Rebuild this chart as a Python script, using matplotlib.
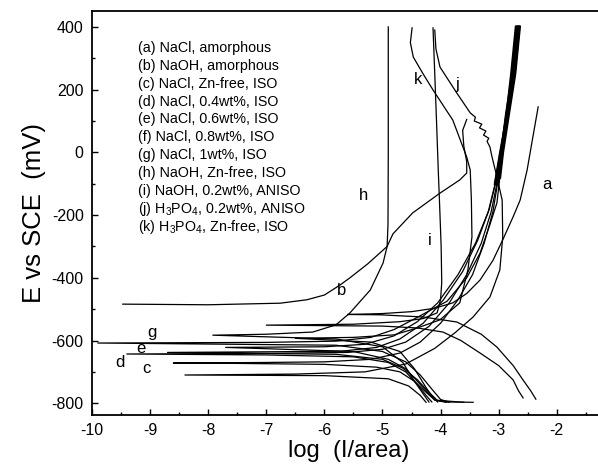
import numpy as np
import matplotlib
matplotlib.use('Agg')
import matplotlib.pyplot as plt
from matplotlib.ticker import MultipleLocator

plt.rcParams['font.family'] = ['Liberation Sans', 'DejaVu Sans']
plt.rcParams['mathtext.default'] = 'regular'
plt.rcParams['axes.unicode_minus'] = False

# curve data: log(I/area) and E (mV), cathodic end -> corrosion cusp -> anodic end
a_logi = [-2.36, -2.45, -2.58, -2.75, -3.03, -3.3, -3.72, -4.3, -5.04, -5.6,
          -5.0, -4.5, -4.1, -3.79, -3.55, -3.32, -3.1, -2.93, -2.75, -2.63, -2.51, -2.42, -2.32]
a_e = [-787, -760, -726, -680, -621, -580, -541, -525, -518, -517,
       -514, -508, -497, -480, -450, -407, -345, -279, -205, -152, -56, 40, 145]

b_logi = [-9.47, -8.0, -6.76, -6.3, -6.0, -5.73, -5.56, -5.25, -4.92, -4.82, -4.48,
          -4.01, -3.67, -3.55, -3.55, -3.6, -3.62, -3.55]
b_e = [-484, -486, -481, -470, -455, -423, -400, -355, -300, -260, -193,
       -130, -88, -66, -30, 20, 70, 105]

c_logi = [-3.44, -3.9, -4.1, -4.25, -4.45, -4.7, -5.1, -6.0, -7.5, -8.6,
          -7.0, -6.0, -5.2, -4.7, -4.35, -4.0, -3.7, -3.45, -3.25, -3.1, -3.02, -2.94, -2.86, -2.78, -2.7]
c_e = [-797, -796, -790, -765, -730, -700, -685, -676, -673, -672,
       -670, -668, -660, -640, -605, -545, -470, -390, -290, -190, -100, 0, 120, 250, 400]

d_logi = [-4.15, -4.25, -4.4, -4.6, -4.9, -5.5, -7.0, -9.4,
          -7.0, -5.6, -5.0, -4.6, -4.2, -3.85, -3.55, -3.3, -3.13, -3.03, -2.95, -2.87, -2.76, -2.68]
d_e = [-796, -775, -740, -700, -670, -652, -646, -643,
       -641, -638, -628, -605, -555, -480, -390, -290, -190, -100, 0, 120, 250, 400]

e_logi = [-3.9, -4.05, -4.2, -4.4, -4.65, -5.0, -5.8, -8.7,
          -7.0, -5.7, -5.1, -4.7, -4.3, -3.95, -3.62, -3.36, -3.16, -3.05, -2.96, -2.86, -2.74, -2.66]
e_e = [-797, -792, -765, -725, -688, -660, -644, -638,
       -636, -634, -622, -595, -545, -470, -380, -280, -180, -95, 0, 120, 250, 400]

f_logi = [-4.05, -4.2, -4.4, -4.6, -4.9, -5.5, -7.7,
          -6.0, -5.3, -4.8, -4.4, -4.05, -3.7, -3.4, -3.18, -3.06, -2.97, -2.85, -2.73, -2.65]
f_e = [-796, -770, -730, -690, -660, -635, -622,
       -620, -612, -585, -540, -480, -390, -290, -190, -100, 0, 120, 250, 400]

g_logi = [-3.85, -4.0, -4.15, -4.35, -4.6, -5.0, -5.8, -9.9,
          -7.0, -5.8, -5.2, -4.8, -4.48, -3.89, -3.55, -3.32, -3.15, -3.03, -2.98, -2.93, -2.83, -2.72, -2.64]
g_e = [-797, -788, -755, -710, -668, -635, -615, -608,
       -606, -602, -590, -565, -534, -475, -400, -321, -230, -161, -80, 0, 120, 250, 400]

h_logi = [-4.2, -4.3, -4.45, -4.65, -5.0, -5.8, -7.92,
          -7.0, -6.2, -5.8, -5.56, -5.21, -4.99, -4.92, -4.905, -4.9, -4.9, -4.9]
h_e = [-796, -770, -730, -670, -620, -595, -583,
       -580, -573, -550, -512, -439, -353, -300, -230, 0, 200, 400]

i_logi = [-2.58, -2.66, -2.75, -3.0, -3.32, -3.65, -3.96, -4.4, -5.0, -7.0,
          -5.5, -4.7, -4.3, -4.06, -4.0, -3.98, -3.99, -4.02, -4.04, -4.07, -4.1, -4.13]
i_e = [-783, -760, -726, -680, -640, -600, -573, -560, -554, -551,
       -548, -540, -530, -512, -470, -415, -300, -150, -56, 100, 250, 397]

j_logi = [-4.25, -4.35, -4.55, -4.9, -6.0, -8.4,
          -6.5, -5.3, -4.6, -4.1, -3.75, -3.44, -3.15, -2.98, -2.93, -2.94, -3.03, -3.12, -3.15,
          -3.2, -3.17, -3.26, -3.22, -3.33, -3.29, -3.42, -3.4, -3.49, -3.72, -4.01, -4.08, -4.1]
j_e = [-797, -775, -745, -722, -712, -710,
       -707, -700, -675, -625, -575, -525, -461, -375, -270, -152, -79, -10, 17,
       35, 45, 55, 68, 78, 90, 100, 112, 126, 189, 272, 330, 390]

k_logi = [-3.6, -4.1, -4.25, -4.45, -4.7, -5.2, -6.5,
          -5.5, -4.8, -4.4, -4.01, -3.67, -3.53, -3.46, -3.47, -3.49, -3.55, -3.79, -4.13, -4.3,
          -4.47, -4.52, -4.49]
k_e = [-797, -790, -750, -690, -635, -605, -593,
       -590, -582, -560, -534, -480, -375, -270, -150, -56, -15, 103, 199, 250,
       304, 350, 397]

curves = [(a_logi, a_e), (b_logi, b_e), (c_logi, c_e), (d_logi, d_e), (e_logi, e_e),
          (f_logi, f_e), (g_logi, g_e), (h_logi, h_e), (i_logi, i_e), (j_logi, j_e),
          (k_logi, k_e)]

legend_lines = ['(a) NaCl, amorphous', '(b) NaOH, amorphous', '(c) NaCl, Zn-free, ISO',
                '(d) NaCl, 0.4wt%, ISO', '(e) NaCl, 0.6wt%, ISO', '(f) NaCl, 0.8wt%, ISO',
                '(g) NaCl, 1wt%, ISO', '(h) NaOH, Zn-free, ISO', '(i) NaOH, 0.2wt%, ANISO',
                '(j) H$_3$PO$_4$, 0.2wt%, ANISO', '(k) H$_3$PO$_4$, Zn-free, ISO']

# curve tag letters and where they sit
tag_text = ['a', 'b', 'h', 'i', 'j', 'k', 'g', 'e', 'd', 'c']
tag_x = [-2.17, -5.71, -5.32, -4.18, -3.72, -4.39, -8.97, -9.16, -9.52, -9.07]
tag_y = [-104, -442, -136, -280, 215, 231, -576, -624, -669, -688]

fig = plt.figure(figsize=(5.98, 4.75), dpi=100)
ax = fig.add_axes([0.1538, 0.126, 0.858, 0.851])

for x, y in curves:
    ax.plot(x, y, color='black', lw=0.9)

# the heavy NaCl bundle at the top
for x, y in [(c_logi, c_e), (d_logi, d_e), (e_logi, e_e), (f_logi, f_e), (g_logi, g_e)]:
    ax.plot(x[-5:], y[-5:], color='black', lw=2.0)

for t, x, y in zip(tag_text, tag_x, tag_y):
    ax.text(x, y, t, fontsize=12, ha='center', va='center')

for n, s in enumerate(legend_lines):
    ax.text(-9.21, 333 - n * 57, s, fontsize=10.3, ha='left', va='center')

ax.set_xlim(-10, -10 + 0.858 * 598 / 58.1)
ax.set_ylim(-838, 451)
ax.xaxis.set_minor_locator(MultipleLocator(0.5))
ax.yaxis.set_major_locator(MultipleLocator(200))
ax.yaxis.set_minor_locator(MultipleLocator(100))
ax.set_xticks(np.arange(-10, -1, 1))
ax.tick_params(which='both', direction='in', top=False, right=False, labelsize=11.5, width=1)
ax.tick_params(which='major', length=4, pad=6)
ax.tick_params(which='minor', length=2.5)
for sp in ax.spines.values():
    sp.set_linewidth(1.3)

ax.set_xlabel('log  (I/area)', fontsize=17, labelpad=1)
ax.set_ylabel('E vs SCE  (mV)', fontsize=18.5, labelpad=4)

fig.savefig('out.png', dpi=100)
